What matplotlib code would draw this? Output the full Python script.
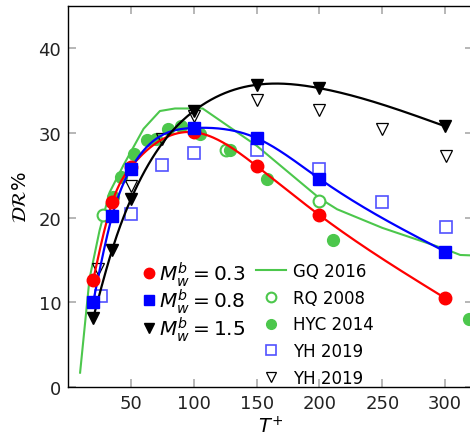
import numpy as np
import matplotlib.pyplot as plt
from matplotlib.lines import Line2D

# present simulations, M_w^b = 0.3 / 0.8 / 1.5
t_sim = [20, 35, 50, 100, 150, 200, 300]
dr_03 = [12.7, 21.8, 26.0, 30.1, 26.1, 20.3, 10.5]
dr_08 = [10.1, 20.2, 25.8, 30.6, 29.4, 24.6, 16.0]
dr_15 = [8.2, 16.2, 22.2, 32.6, 35.7, 35.3, 30.8]

# GQ 2016 (line)
t_gq = [9.5, 17, 25, 33, 44, 60, 73, 85, 107, 150, 200, 214, 250, 300, 312, 330]
dr_gq = [1.7, 12.8, 18.5, 23.0, 26.2, 30.5, 32.6, 32.9, 32.9, 28.5, 22.3, 21.0, 18.8, 16.3, 15.6, 15.5]

# RQ 2008 (open circles)
t_rq = [28, 126, 200]
dr_rq = [20.3, 28.0, 22.0]

# HYC 2014 (filled circles)
t_hyc = [35.7, 41.8, 52.4, 62.5, 70, 79.2, 89.8, 105, 128.9, 158, 211, 318.6]
dr_hyc = [22.4, 24.8, 27.5, 29.2, 29.3, 30.5, 30.8, 29.9, 28.0, 24.6, 17.4, 8.0]

# YH 2019 (open squares / open triangles)
t_yh = [26, 50, 75, 100, 150, 200, 250, 301]
dr_yh_sq = [10.7, 20.4, 26.2, 27.6, 28.0, 25.8, 21.9, 18.9]
t_yh_tri = [24, 50, 75, 100, 150, 200, 250, 301]
dr_yh_tri = [13.9, 23.7, 29.3, 32.0, 33.9, 32.7, 30.5, 27.3]

GREEN = '#4cc74c'
LIGHT_BLUE = '#5252ff'


def csplines(x, y, n=300):
    # natural cubic spline through the data points
    x = np.asarray(x, float)
    y = np.asarray(y, float)
    m = len(x)
    h = np.diff(x)
    A = np.zeros((m, m))
    b = np.zeros(m)
    A[0, 0] = A[-1, -1] = 1.0
    for i in range(1, m - 1):
        A[i, i - 1] = h[i - 1]
        A[i, i] = 2 * (h[i - 1] + h[i])
        A[i, i + 1] = h[i]
        b[i] = 6 * ((y[i + 1] - y[i]) / h[i] - (y[i] - y[i - 1]) / h[i - 1])
    M = np.linalg.solve(A, b)
    xs = np.linspace(x[0], x[-1], n)
    k = np.clip(np.searchsorted(x, xs) - 1, 0, m - 2)
    dx0 = xs - x[k]
    dx1 = x[k + 1] - xs
    hk = h[k]
    ys = (M[k] * dx1 ** 3 + M[k + 1] * dx0 ** 3) / (6 * hk) \
        + (y[k] / hk - M[k] * hk / 6) * dx1 + (y[k + 1] / hk - M[k + 1] * hk / 6) * dx0
    return xs, ys


fig = plt.figure(figsize=(4.7, 4.39), dpi=100)
ax = fig.add_axes([0.145, 0.116, 0.861, 0.868])

ax.plot(t_gq, dr_gq, color=GREEN, lw=1.5, zorder=2)
ax.plot(t_rq, dr_rq, 'o', ms=8.5, mfc='white', mec=GREEN, mew=1.5, ls='none', zorder=3)
ax.plot(t_hyc, dr_hyc, 'o', ms=8.5, color=GREEN, ls='none', zorder=3)
ax.plot(t_yh, dr_yh_sq, 's', ms=8, mfc='none', mec=LIGHT_BLUE, mew=1.2, ls='none', zorder=3)
ax.plot(t_yh_tri, dr_yh_tri, 'v', ms=8.5, mfc='none', mec='black', mew=0.9, ls='none', zorder=3)

for dr, c, mk in [(dr_03, 'red', 'o'), (dr_08, 'blue', 's'), (dr_15, 'black', 'v')]:
    xs, ys = csplines(t_sim, dr)
    ax.plot(xs, ys, color=c, lw=1.6, zorder=4)
    ax.plot(t_sim, dr, mk, color=c, ms=9, ls='none', zorder=5)

ax.set_xlim(0, 322)
ax.set_ylim(0, 45)
ax.set_xticks([50, 100, 150, 200, 250, 300])
ax.set_yticks([0, 10, 20, 30, 40])
ax.tick_params(direction='in', length=6, width=1.2, color='#aaaaaa',
               top=True, right=True, labelsize=13, labelcolor='#222222', pad=5)
for sp in ax.spines.values():
    sp.set_linewidth(1.0)
ax.set_xlabel(r'$T^{+}$', fontsize=14, labelpad=2)
ax.set_ylabel(r'$\mathcal{DR}\%$', fontsize=14, labelpad=6)

h_sim = [Line2D([], [], marker=mk, color=c, ls='none', ms=7.5)
         for c, mk in [('red', 'o'), ('blue', 's'), ('black', 'v')]]
leg1 = ax.legend(h_sim, [r'$M_w^b=0.3$', r'$M_w^b=0.8$', r'$M_w^b=1.5$'],
                 loc='upper left', bbox_to_anchor=(0.185, 0.336), frameon=False,
                 fontsize=14.5, handlelength=0.6, handletextpad=0.2, labelspacing=-0.05,
                 borderaxespad=0, borderpad=0)
ax.add_artist(leg1)

h_ref = [Line2D([], [], color=GREEN, lw=1.5),
         Line2D([], [], marker='o', mfc='white', mec=GREEN, mew=1.5, ls='none', ms=7),
         Line2D([], [], marker='o', color=GREEN, ls='none', ms=7),
         Line2D([], [], marker='s', mfc='none', mec=LIGHT_BLUE, mew=1.2, ls='none', ms=7),
         Line2D([], [], marker='v', mfc='none', mec='black', mew=0.9, ls='none', ms=7)]
ax.legend(h_ref, ['GQ 2016', 'RQ 2008', 'HYC 2014', 'YH 2019', 'YH 2019'],
          loc='upper left', bbox_to_anchor=(0.465, 0.328), frameon=False,
          fontsize=12, handlelength=1.8, handletextpad=0.4, labelspacing=0.52,
          borderaxespad=0, borderpad=0)

fig.savefig('out.png', dpi=100)
